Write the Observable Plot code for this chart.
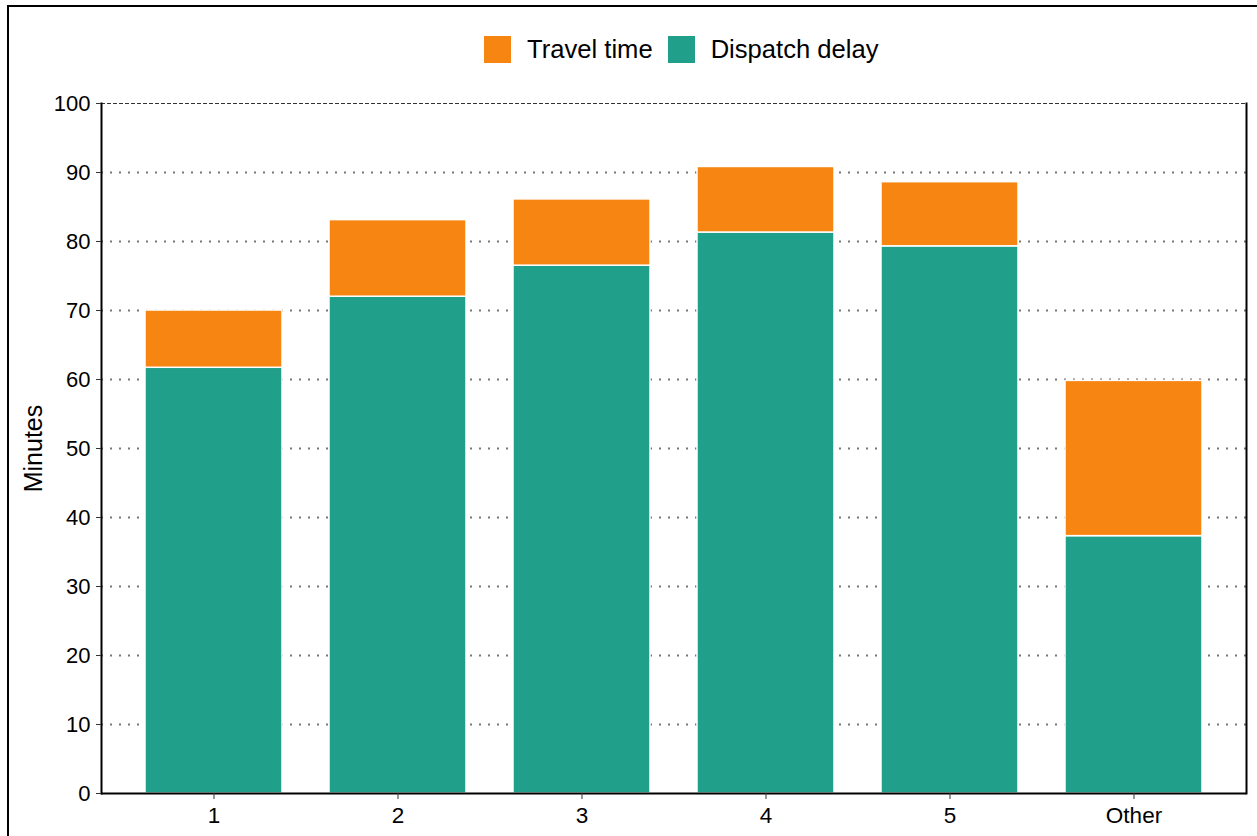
<!DOCTYPE html>
<html><head><meta charset="utf-8">
<script src="https://cdn.jsdelivr.net/npm/d3@7"></script>
<script src="https://cdn.jsdelivr.net/npm/@observablehq/plot@0.6"></script>
<style>
body{margin:0;background:#fff;font-family:"Liberation Sans",Arial,sans-serif}
#wrap{position:relative;width:1257px;height:836px;overflow:hidden;background:#fff}
#chart{position:absolute;left:0;top:0}
#frame{position:absolute;left:7px;top:5px;width:1300px;height:900px;border-left:2px solid #000;border-top:2px solid #000;z-index:2;pointer-events:none}
#legend{position:absolute;top:35px;left:484px;display:flex;align-items:center;font-size:25.6px;color:#000;z-index:3;white-space:nowrap}
.sw{width:27px;height:27px;display:inline-block}
.lab{margin-left:16px;margin-right:15px;line-height:28px}
</style>
</head><body>
<div id="wrap">
  <div id="chart"></div>
  <div id="legend"></div>
  <div id="frame"></div>
</div>
<script>
const categories = ["1", "2", "3", "4", "5", "Other"];
const dispatchDelay = [61.7, 72.0, 76.5, 81.3, 79.3, 37.3];
const travelTime = [8.3, 11.1, 9.6, 9.5, 9.3, 22.5];
const seriesNames = ["Dispatch delay", "Travel time"];
const seriesColors = ["#209F8A", "#F68512"];
const yTicks = [0, 10, 20, 30, 40, 50, 60, 70, 80, 90, 100];
const gridTicks = [10, 20, 30, 40, 50, 60, 70, 80, 90];
const legendOrder = ["Travel time", "Dispatch delay"];

const data = [];
categories.forEach((c, i) => {
  data.push({cat: c, series: "Dispatch delay", value: dispatchDelay[i]});
  data.push({cat: c, series: "Travel time", value: travelTime[i]});
});

const font = '"Liberation Sans", Arial, sans-serif';

const plot = Plot.plot({
  width: 1257,
  height: 836,
  marginTop: 103,
  marginBottom: 43,
  marginLeft: 101,
  marginRight: 11,
  style: {fontFamily: font, fontSize: "22px", color: "#000", background: "transparent"},
  x: {domain: categories, paddingInner: 0.255, paddingOuter: 0.235, label: null},
  y: {domain: [0, 100], label: null},
  color: {domain: seriesNames, range: seriesColors},
  marks: [
    Plot.ruleY(gridTicks, {stroke: "#777", strokeWidth: 2, strokeDasharray: "2,7"}),
    Plot.barY(data, {x: "cat", y: "value", fill: "series", order: seriesNames, stroke: "white", strokeWidth: 1.5}),
    Plot.ruleY([100], {stroke: "#333", strokeWidth: 1.2, strokeDasharray: "4,2"}),
    Plot.ruleY([0], {stroke: "#000", strokeWidth: 2}),
    Plot.frame({anchor: "left", stroke: "#000", strokeWidth: 2}),
    Plot.frame({anchor: "right", stroke: "#000", strokeWidth: 2}),
    Plot.axisY({ticks: yTicks, tickSize: 5, tickPadding: 6, fontSize: 22, stroke: "#333", label: null}),
    Plot.axisX({tickSize: 6, tickPadding: 8, fontSize: 22.5, stroke: "#333", label: null}),
    Plot.text(["Minutes"], {frameAnchor: "left", dx: -68, rotate: -90, textAnchor: "middle", fontSize: 25, fill: "#000"})
  ]
});
document.getElementById("chart").appendChild(plot);

const leg = document.getElementById("legend");
legendOrder.forEach(name => {
  const sw = document.createElement("span");
  sw.className = "sw";
  sw.style.background = seriesColors[seriesNames.indexOf(name)];
  const lab = document.createElement("span");
  lab.className = "lab";
  lab.textContent = name;
  leg.appendChild(sw);
  leg.appendChild(lab);
});
</script>
</body></html>
